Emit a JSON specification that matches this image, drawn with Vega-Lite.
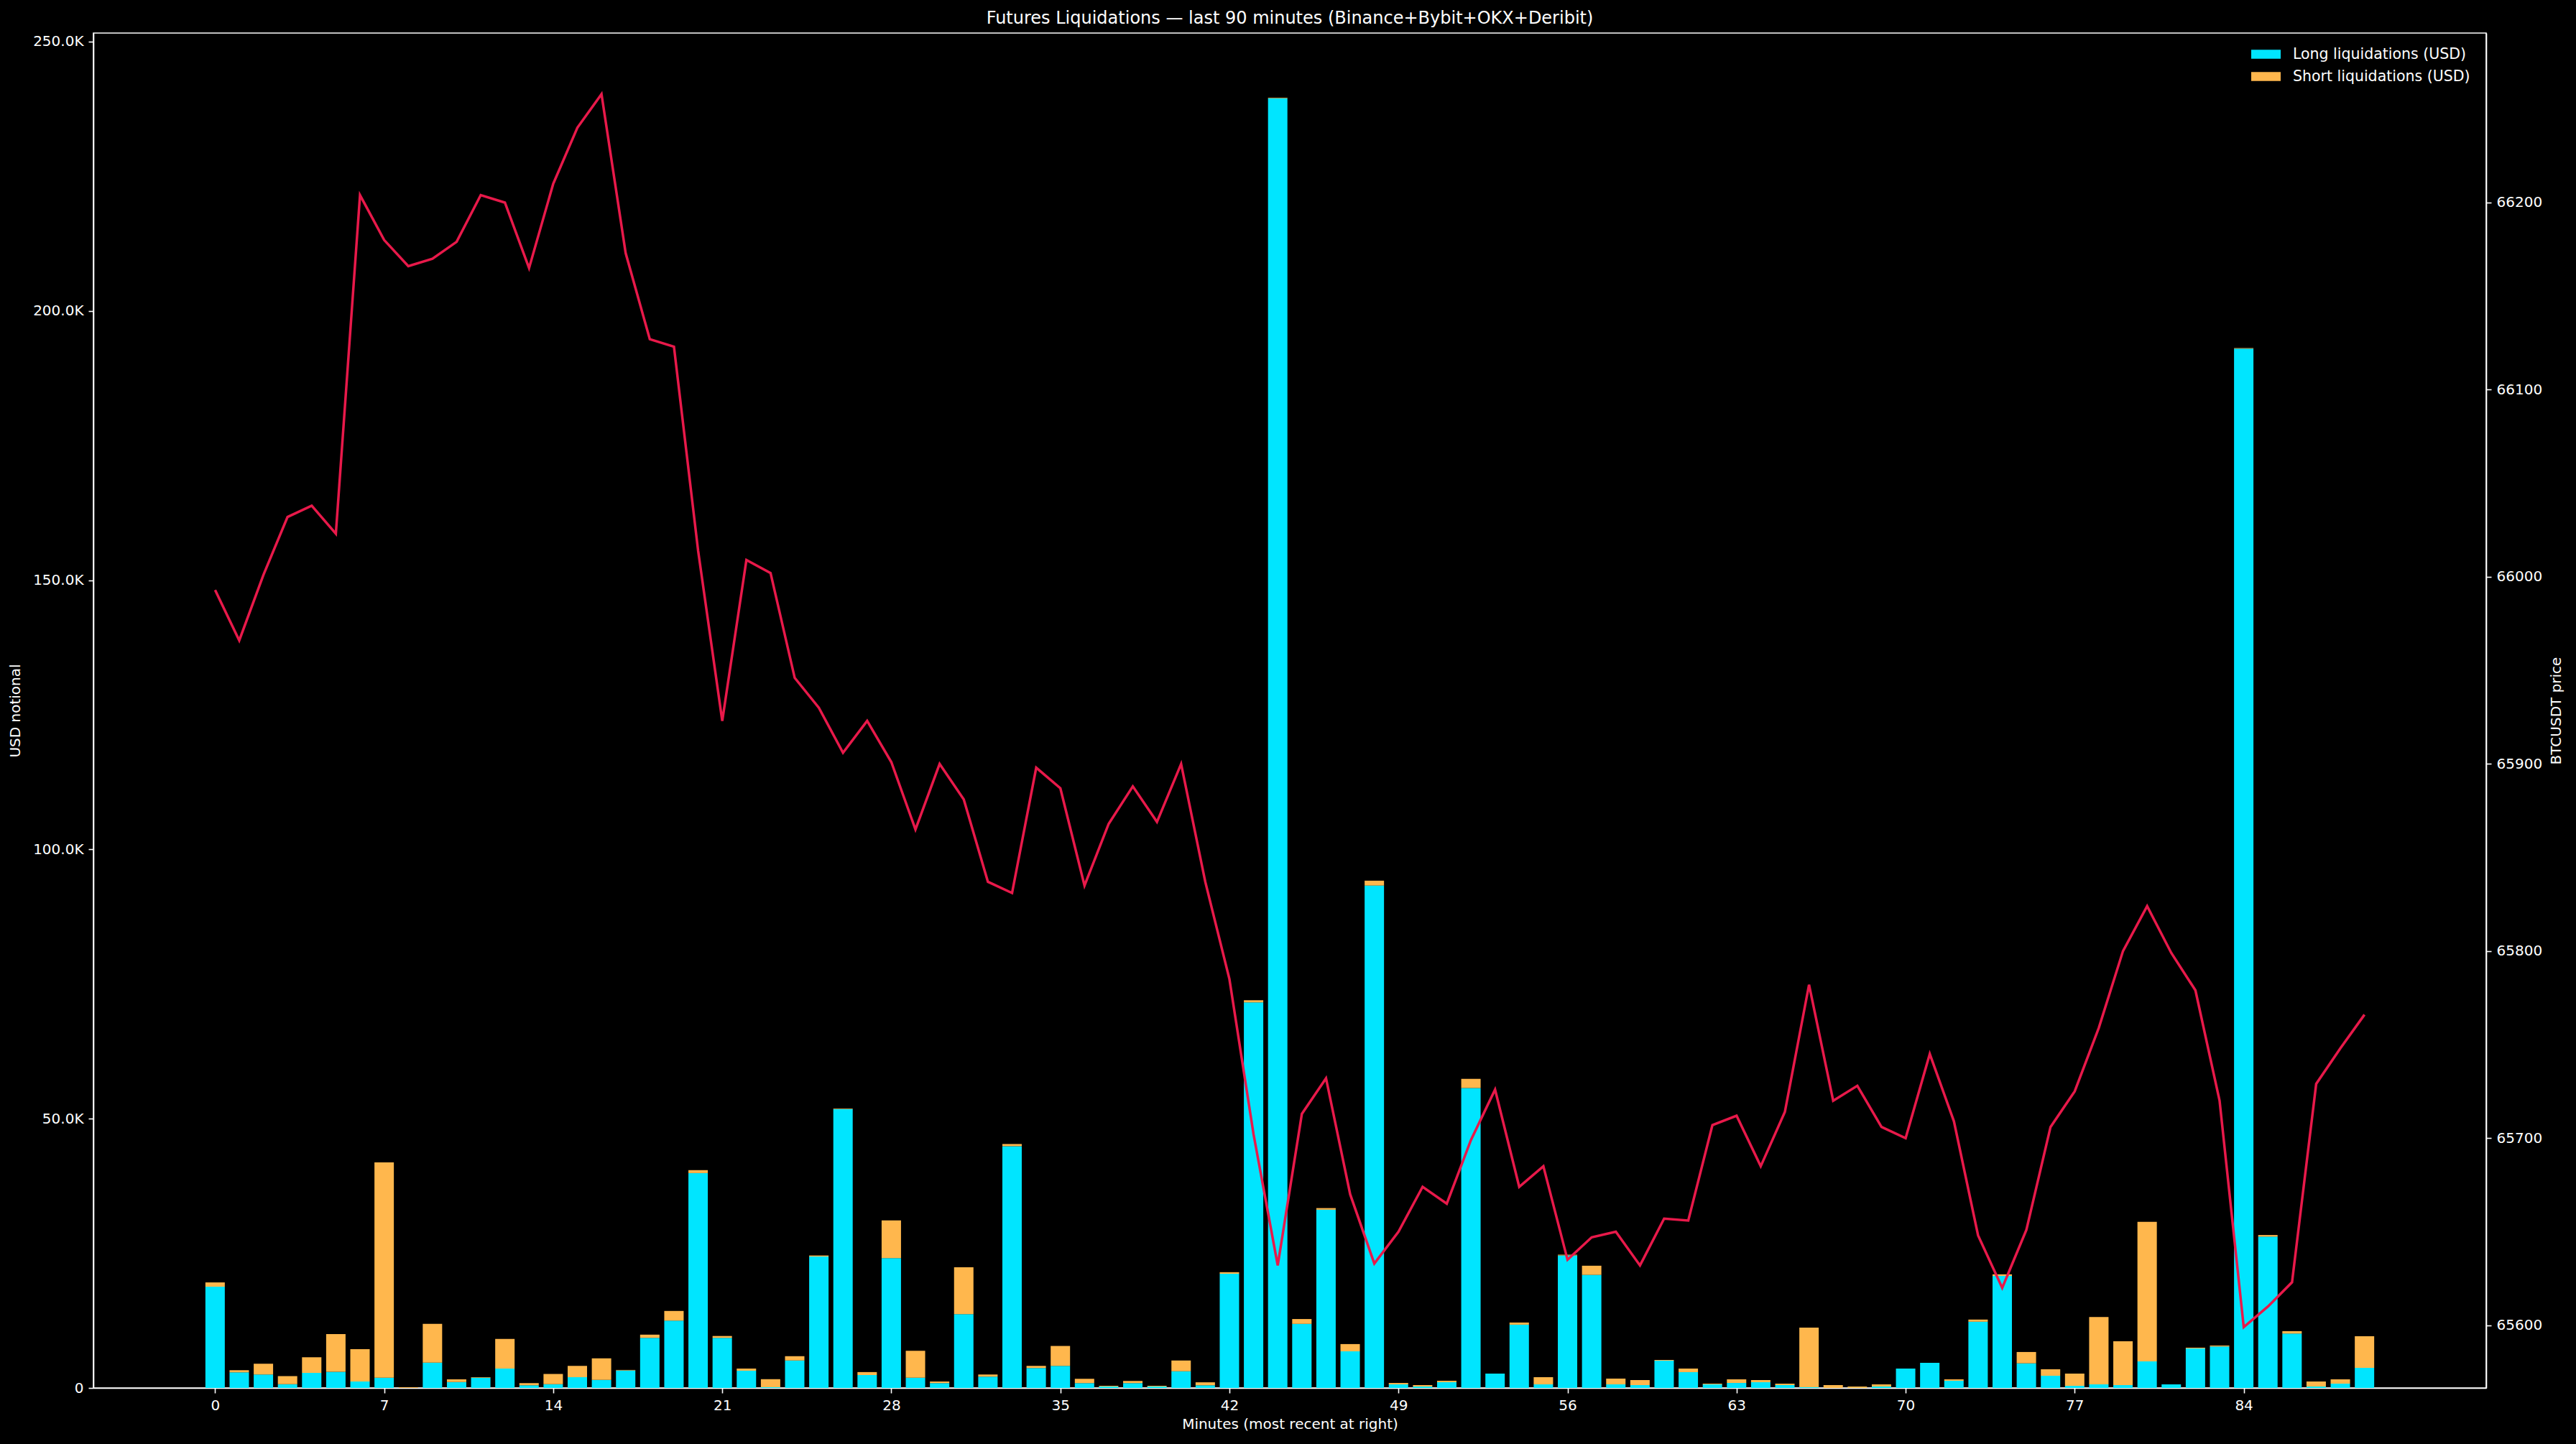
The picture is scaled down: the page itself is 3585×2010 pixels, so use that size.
{
  "$schema": "https://vega.github.io/schema/vega-lite/v6.json",
  "autosize": {"type": "none"},
  "width": 3330,
  "height": 1886,
  "padding": {"left": 130, "top": 46, "right": 125, "bottom": 78},
  "background": "#000000",
  "config": {
    "font": "DejaVu Sans",
    "view": {"stroke": "#ffffff", "strokeWidth": 1.6},
    "axis": {
      "labelColor": "#ffffff", "titleColor": "#ffffff", "domainColor": "#ffffff", "tickColor": "#ffffff",
      "labelFontSize": 20, "titleFontSize": 20, "titleFontWeight": "normal", "grid": false,
      "tickSize": 7, "tickWidth": 1.6, "domainWidth": 1.6, "labelPadding": 7, "labelFont": "DejaVu Sans", "titleFont": "DejaVu Sans"
    },
    "legend": {"padding": 0}
  },
  "title": {
    "text": "Futures Liquidations — last 90 minutes (Binance+Bybit+OKX+Deribit)",
    "fontSize": 24, "color": "#ffffff", "fontWeight": "normal", "anchor": "middle", "frame": "group",
    "baseline": "alphabetic", "offset": 4, "dy": 15, "font": "DejaVu Sans"
  },
  "data": {"values": [
    {"m":0,"long":18800,"short":800,"price":65993},
    {"m":1,"long":2900,"short":400,"price":65966},
    {"m":2,"long":2500,"short":2000,"price":66001},
    {"m":3,"long":700,"short":1500,"price":66032},
    {"m":4,"long":2800,"short":2900,"price":66038},
    {"m":5,"long":3000,"short":7000,"price":66023},
    {"m":6,"long":1200,"short":6000,"price":66204},
    {"m":7,"long":1900,"short":40000,"price":66180},
    {"m":8,"long":0,"short":130,"price":66166},
    {"m":9,"long":4700,"short":7200,"price":66170},
    {"m":10,"long":1100,"short":500,"price":66179},
    {"m":11,"long":1900,"short":100,"price":66204},
    {"m":12,"long":3600,"short":5500,"price":66200},
    {"m":13,"long":500,"short":400,"price":66165},
    {"m":14,"long":700,"short":1900,"price":66210},
    {"m":15,"long":2000,"short":2100,"price":66240},
    {"m":16,"long":1500,"short":4000,"price":66258},
    {"m":17,"long":3250,"short":100,"price":66173},
    {"m":18,"long":9300,"short":600,"price":66127},
    {"m":19,"long":12500,"short":1800,"price":66123},
    {"m":20,"long":39900,"short":550,"price":66014},
    {"m":21,"long":9300,"short":350,"price":65923},
    {"m":22,"long":3200,"short":400,"price":66009},
    {"m":23,"long":130,"short":1500,"price":66002},
    {"m":24,"long":5100,"short":800,"price":65946},
    {"m":25,"long":24400,"short":200,"price":65930},
    {"m":26,"long":51800,"short":100,"price":65906},
    {"m":27,"long":2400,"short":550,"price":65923},
    {"m":28,"long":24100,"short":7000,"price":65901},
    {"m":29,"long":1900,"short":5000,"price":65865},
    {"m":30,"long":900,"short":300,"price":65900},
    {"m":31,"long":13700,"short":8700,"price":65881},
    {"m":32,"long":2100,"short":400,"price":65837},
    {"m":33,"long":44900,"short":400,"price":65831},
    {"m":34,"long":3700,"short":400,"price":65898},
    {"m":35,"long":4100,"short":3700,"price":65887},
    {"m":36,"long":900,"short":800,"price":65835},
    {"m":37,"long":270,"short":130,"price":65868},
    {"m":38,"long":900,"short":400,"price":65888},
    {"m":39,"long":270,"short":130,"price":65869},
    {"m":40,"long":3100,"short":2000,"price":65900},
    {"m":41,"long":500,"short":550,"price":65837},
    {"m":42,"long":21200,"short":300,"price":65785},
    {"m":43,"long":71600,"short":400,"price":65702},
    {"m":44,"long":239500,"short":100,"price":65632},
    {"m":45,"long":11900,"short":900,"price":65713},
    {"m":46,"long":33100,"short":300,"price":65732},
    {"m":47,"long":6800,"short":1350,"price":65670},
    {"m":48,"long":93300,"short":900,"price":65633},
    {"m":49,"long":670,"short":260,"price":65650},
    {"m":50,"long":270,"short":260,"price":65674},
    {"m":51,"long":1070,"short":270,"price":65665},
    {"m":52,"long":55700,"short":1700,"price":65699},
    {"m":53,"long":2670,"short":0,"price":65726},
    {"m":54,"long":11750,"short":400,"price":65674},
    {"m":55,"long":670,"short":1330,"price":65685},
    {"m":56,"long":24600,"short":130,"price":65635},
    {"m":57,"long":21000,"short":1700,"price":65647},
    {"m":58,"long":670,"short":1070,"price":65650},
    {"m":59,"long":530,"short":940,"price":65632},
    {"m":60,"long":5070,"short":130,"price":65657},
    {"m":61,"long":2940,"short":660,"price":65656},
    {"m":62,"long":670,"short":130,"price":65707},
    {"m":63,"long":930,"short":670,"price":65712},
    {"m":64,"long":1070,"short":400,"price":65685},
    {"m":65,"long":530,"short":270,"price":65714},
    {"m":66,"long":130,"short":11070,"price":65782},
    {"m":67,"long":0,"short":530,"price":65720},
    {"m":68,"long":0,"short":270,"price":65728},
    {"m":69,"long":270,"short":400,"price":65706},
    {"m":70,"long":3600,"short":0,"price":65700},
    {"m":71,"long":4670,"short":0,"price":65745},
    {"m":72,"long":1340,"short":260,"price":65709},
    {"m":73,"long":12300,"short":400,"price":65648},
    {"m":74,"long":20800,"short":300,"price":65620},
    {"m":75,"long":4580,"short":2100,"price":65651},
    {"m":76,"long":2270,"short":1200,"price":65706},
    {"m":77,"long":400,"short":2270,"price":65725},
    {"m":78,"long":670,"short":12500,"price":65759},
    {"m":79,"long":530,"short":8150,"price":65800},
    {"m":80,"long":4940,"short":25900,"price":65824},
    {"m":81,"long":670,"short":0,"price":65799},
    {"m":82,"long":7340,"short":140,"price":65779},
    {"m":83,"long":7700,"short":180,"price":65720},
    {"m":84,"long":193000,"short":100,"price":65599},
    {"m":85,"long":28100,"short":300,"price":65610},
    {"m":86,"long":10100,"short":450,"price":65623},
    {"m":87,"long":270,"short":930,"price":65729},
    {"m":88,"long":800,"short":800,"price":65748},
    {"m":89,"long":3740,"short":5860,"price":65766}
  ]},
  "layer": [
    {
      "transform": [{"fold": ["long", "short"], "as": ["kind", "usd"]}],
      "mark": {"type": "bar", "width": 27},
      "encoding": {
        "x": {
          "field": "m", "type": "quantitative",
          "scale": {"domain": [-4.89, 93.89], "nice": false, "zero": false},
          "axis": {"values": [0, 7, 14, 21, 28, 35, 42, 49, 56, 63, 70, 77, 84], "format": "d", "title": "Minutes (most recent at right)", "titlePadding": 6}
        },
        "y": {
          "field": "usd", "type": "quantitative", "stack": "zero",
          "scale": {"domain": [0, 251600], "nice": false, "zero": true},
          "axis": {
            "orient": "left", "values": [0, 50000, 100000, 150000, 200000, 250000],
            "labelExpr": "datum.value == 0 ? '0' : format(datum.value / 1000, '.1f') + 'K'",
            "title": "USD notional", "titlePadding": 14
          }
        },
        "order": {"field": "kind", "type": "nominal", "sort": "ascending"},
        "color": {
          "field": "kind", "type": "nominal",
          "scale": {"domain": ["long", "short"], "range": ["#00E5FF", "#FFB74D"]},
          "legend": {
            "title": null, "orient": "none", "legendX": 3013, "legendY": 19, "direction": "vertical",
            "symbolType": "M-2,-0.6H2V0.6H-2Z", "symbolSize": 420, "symbolStrokeWidth": 0,
            "labelFontSize": 20.5, "labelColor": "#ffffff", "labelOffset": 27, "rowPadding": 10,
            "labelFont": "DejaVu Sans", "labelLimit": 0,
            "labelExpr": "datum.label == 'long' ? 'Long liquidations (USD)' : 'Short liquidations (USD)'"
          }
        }
      }
    },
    {
      "mark": {"type": "line", "color": "#E8194A", "strokeWidth": 3.5},
      "encoding": {
        "x": {"field": "m", "type": "quantitative"},
        "y": {
          "field": "price", "type": "quantitative",
          "scale": {"domain": [65566.5, 66290.6], "nice": false, "zero": false},
          "axis": {"orient": "right", "values": [65600, 65700, 65800, 65900, 66000, 66100, 66200], "format": "d", "title": "BTCUSDT price", "titlePadding": 30, "titleAngle": 270}
        }
      }
    }
  ],
  "resolve": {"scale": {"y": "independent"}, "axis": {"y": "independent"}}
}
